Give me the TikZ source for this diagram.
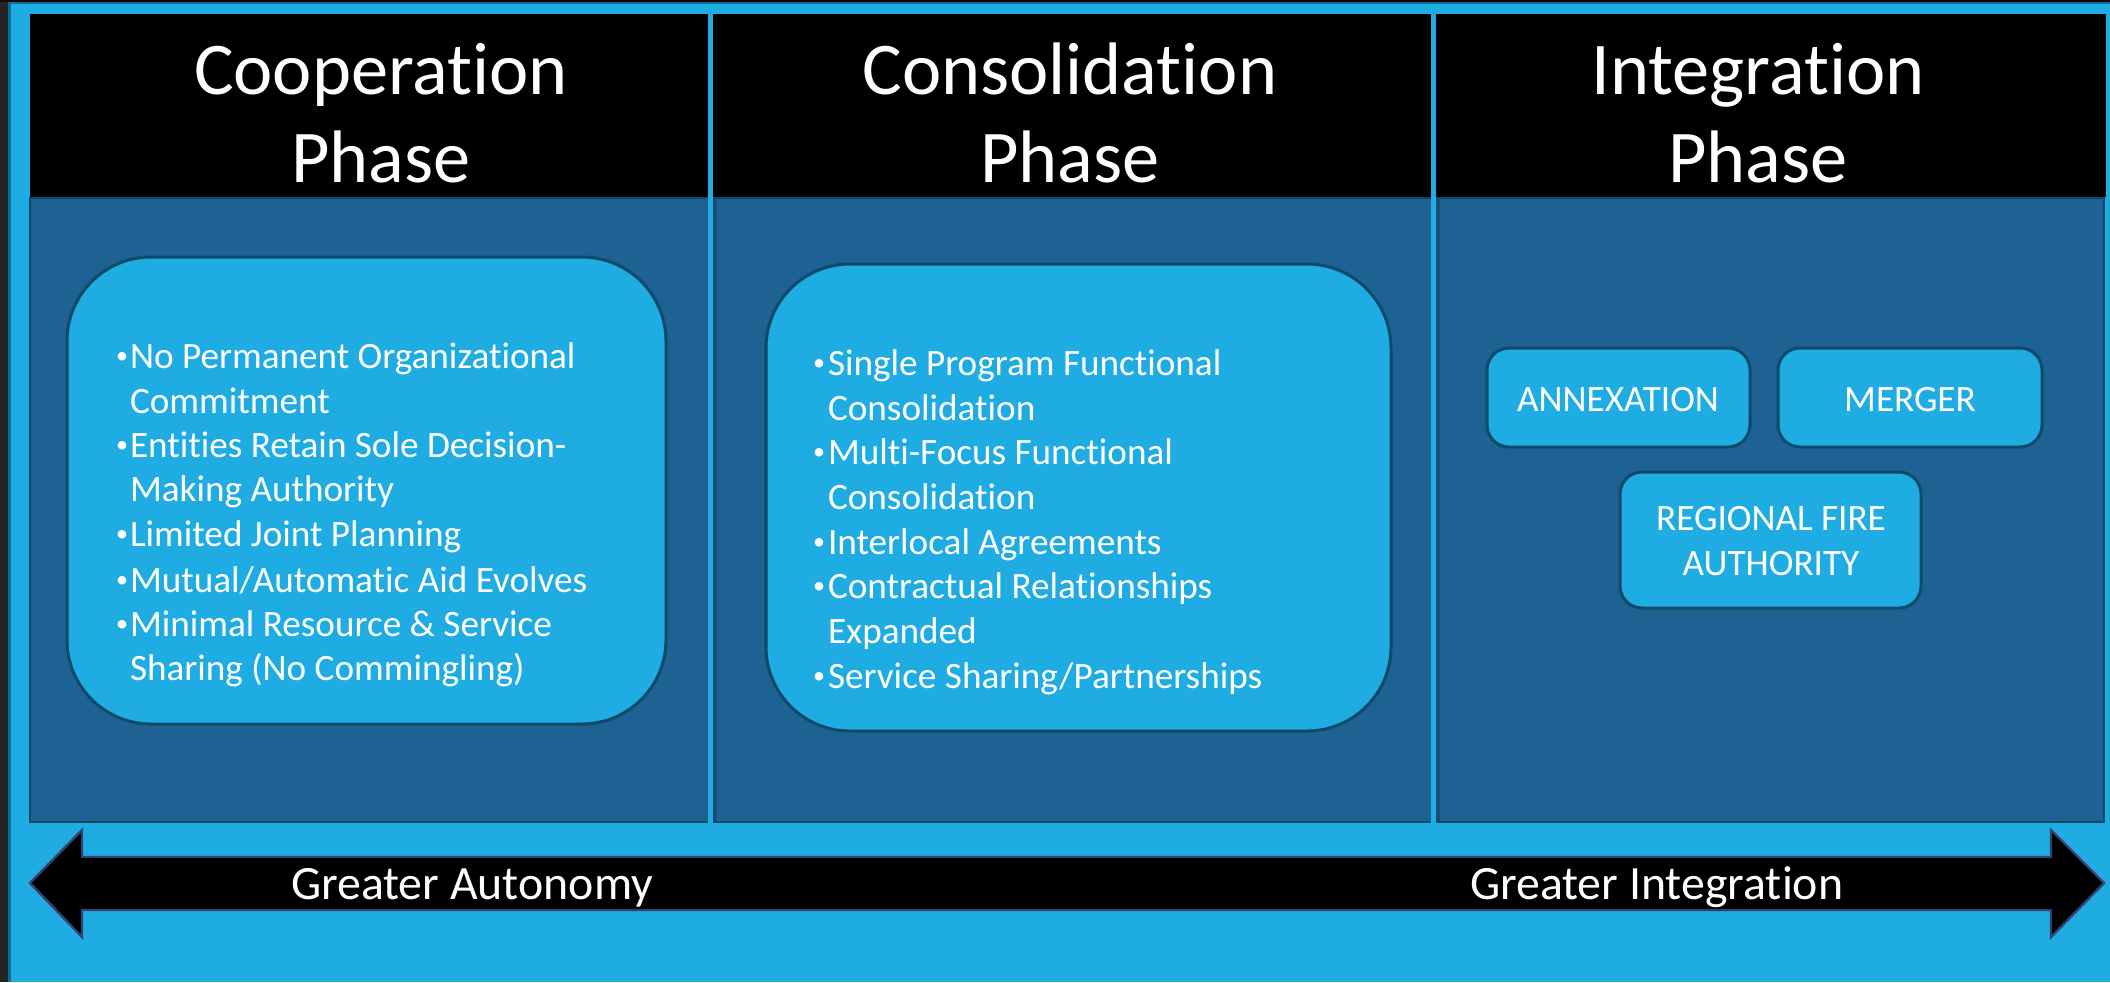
\documentclass[tikz,border=0pt]{standalone}
\usepackage{fontspec}
\setmainfont{Carlito}[Ligatures={NoCommon}]
\definecolor{sky}{HTML}{1FACE3}
\definecolor{panel}{HTML}{1E6294}
\definecolor{pborder}{HTML}{0C4A69}
\definecolor{arrowedge}{HTML}{34406F}
\definecolor{strip}{HTML}{242424}
\definecolor{topstrip}{HTML}{1A0404}
\definecolor{edgeline}{HTML}{0E6D95}
\definecolor{divshadow}{HTML}{174E76}
\begin{document}
\begin{tikzpicture}[x=0.5pt,y=-0.5pt,
  every node/.style={inner sep=0pt, outer sep=0pt, text=white},
  headtxt/.style={font=\fontsize{37.2}{44}\selectfont, anchor=base},
  btxt/.style={font=\fontsize{18.6}{22}\selectfont, anchor=base west},
  bul/.style={font=\fontsize{12}{12}\selectfont, anchor=base west},
  ctxt/.style={font=\fontsize{18.6}{22}\selectfont, anchor=base},
  atxt/.style={font=\fontsize{23.9}{28}\selectfont, anchor=base west},
  bigbox/.style={draw=pborder, fill=sky, line width=1.5pt, rounded corners=42pt},
  smallbox/.style={draw=pborder, fill=sky, line width=1.5pt, rounded corners=11pt},
  divider/.style={draw=sky, line width=2.5pt}]
\useasboundingbox (0,0) rectangle (2110,982);
% background
\fill[sky] (0,0) rectangle (2110,982);
\fill[strip] (0,0) rectangle (8,982);
\fill[topstrip] (0,0) rectangle (2110,2);
\fill[edgeline] (8,2) rectangle (10.5,982);
\fill[edgeline] (8,2) rectangle (2110,4);
% header and panels
\fill[black] (30,14) rectangle (2106,197);
\draw[fill=panel, draw=pborder, line width=1.2pt] (30,198) rectangle (2104,822);
% divider shadows and dividers
\fill[divshadow] (713,199) rectangle (717,821);
\fill[divshadow] (1436,199) rectangle (1440,821);
\draw[divider] (710.5,5) -- (710.5,825);
\draw[divider] (1433.5,5) -- (1433.5,825);
% header texts
\node[headtxt] (h1a) at (381,94) {Cooperation};
\node[headtxt] (h1b) at (381,182) {Phase};
\node[headtxt] (h2a) at (1070,94) {Consolidation};
\node[headtxt] (h2b) at (1070,182) {Phase};
\node[headtxt] (h3a) at (1758,94) {Integration};
\node[headtxt] (h3b) at (1758,182) {Phase};
% big boxes
\node[bigbox, minimum width=299.5pt, minimum height=233.5pt] (box1) at (366.5,490.5) {};
\node[bigbox, minimum width=312.5pt, minimum height=233.5pt] (box2) at (1078.5,497.5) {};
% box 1 text
\foreach \y/\t [count=\i] in {368/{No Permanent Organizational}, 413/{Commitment},
  457/{Entities Retain Sole Decision-}, 501/{Making Authority}, 546/{Limited Joint Planning},
  592/{Mutual/Automatic Aid Evolves}, 636/{Minimal Resource \& Service},
  680/{Sharing (No Commingling)}}
  \node[btxt] (ca\i) at (130,\y) {\t};
\foreach \y [count=\i] in {368,457,546,592,636}
  \node[bul] (cb\i) at (116,\y-5) {\textbullet};
% box 2 text
\foreach \y/\t [count=\i] in {375/{Single Program Functional}, 420/{Consolidation},
  464/{Multi-Focus Functional}, 509/{Consolidation}, 554/{Interlocal Agreements},
  598/{Contractual Relationships}, 643/{Expanded}, 688/{Service Sharing/Partnerships}}
  \node[btxt] (da\i) at (828,\y) {\t};
\foreach \y [count=\i] in {375,464,554,598,688}
  \node[bul] (db\i) at (813,\y-5) {\textbullet};
% small boxes
\node[smallbox, minimum width=131.5pt, minimum height=49.5pt] (annex) at (1618.5,397.5) {};
\node[smallbox, minimum width=132pt, minimum height=49.5pt] (merger) at (1910,397.5) {};
\node[smallbox, minimum width=150.5pt, minimum height=68pt] (rfa) at (1770.5,540) {};
\node[ctxt] (annext) at (1618,411) {ANNEXATION};
\node[ctxt] (mergert) at (1910,411) {MERGER};
\node[ctxt] (rfat1) at (1771,530) {REGIONAL FIRE};
\node[ctxt] (rfat2) at (1771,575) {AUTHORITY};
% double arrow
\draw[fill=black, draw=arrowedge, line width=1.2pt, line join=miter]
  (30,883) -- (82,830) -- (82,857) -- (2051,857) -- (2051,830) -- (2104,883)
  -- (2051,937) -- (2051,910) -- (82,910) -- (82,937) -- cycle;
\node[atxt] (auton) at (291,899) {Greater Autonomy};
\node[atxt] (integ) at (1470,899) {Greater Integration};
\end{tikzpicture}
\end{document}
